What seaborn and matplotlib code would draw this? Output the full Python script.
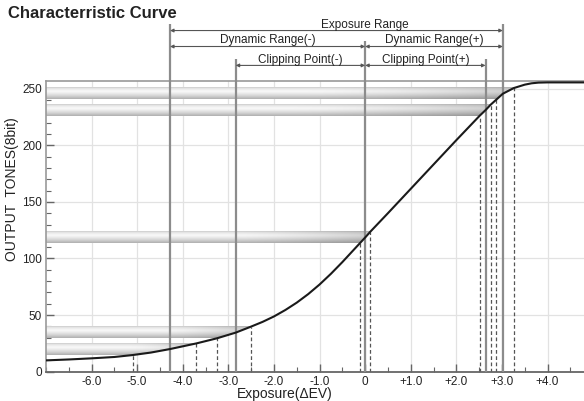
import matplotlib
matplotlib.use('AGG')
import matplotlib.pyplot as plt
from matplotlib.patches import Polygon
from matplotlib.ticker import MultipleLocator, FixedLocator
import seaborn as sns
import pandas as pd
import numpy as np

# characteristic curve (exposure in EV, output tone 0-255)
ev = [-7.0, -6.5, -6.0, -5.5, -5.1, -4.7, -4.28, -3.7, -3.25, -2.84, -2.51, -2.25,
      -2.0, -1.75, -1.5, -1.25, -1.0, -0.75, -0.5, -0.3, -0.12, 0.0, 0.11, 0.5,
      1.0, 1.5, 2.0, 2.51, 2.64, 2.75, 2.88, 3.02, 3.26, 3.5, 3.65, 3.8, 4.0, 4.8]
tones = [10.0, 10.8, 11.8, 13.0, 14.7, 16.9, 20.0, 25.0, 29.5, 34.5, 39.7, 44.0,
         48.8, 54.5, 61.0, 68.5, 77.0, 86.5, 96.8, 105.5, 113.3, 118.5, 123.5, 140.0,
         161.5, 183.0, 204.5, 226.0, 231.0, 235.7, 240.4, 245.5, 250.5, 253.5, 254.7,
         255.3, 255.5, 255.5]

# grey reference bands (tone range) and where the curve meets them
band_lo = [240.5, 226.0, 113.5, 29.5, 14.7]
band_hi = [250.5, 236.0, 123.5, 39.7, 25.0]
cross_lo = [2.88, 2.51, -0.12, -3.25, -5.1]
cross_mid = [3.02, 2.64, 0.0, -2.84, -4.28]
cross_hi = [3.26, 2.75, 0.11, -2.51, -3.7]
mid_top = [306.8, 276.4, 292.5, 276.4, 306.8]

# range annotations above the plot
range_labels = ["Exposure Range", "Dynamic Range(-)", "Dynamic Range(+)",
                "Clipping Point(-)", "Clipping Point(+)"]
range_start = [-4.28, -4.28, 0.0, -2.84, 0.0]
range_end = [3.02, 0.0, 3.02, 0.0, 2.64]
range_level = [301.3, 287.2, 287.2, 270.5, 270.5]
range_text_x = [0.0, -2.14, 1.51, -1.42, 1.32]
range_text_y = [306.5, 292.6, 292.6, 275.5, 275.5]

xticks = [-6, -5, -4, -3, -2, -1, 0, 1, 2, 3, 4]
xticklabels = ["-6.0", "-5.0", "-4.0", "-3.0", "-2.0", "-1.0", "0",
               "+1.0", "+2.0", "+3.0", "+4.0"]
yticks = [0, 50, 100, 150, 200, 250]


def band_image(n_rows=40, n_cols=200):
    # cylinder-like shading: grey edges, bright middle, slight darkening to the right
    t = np.linspace(0, 1, n_rows)
    v = 0.97 - 0.28 * np.abs(t - 0.35) ** 1.3 / 0.65 ** 1.3
    v[0] = 0.74
    s = np.linspace(0, 1, n_cols)
    h = 1.0 - 0.16 * np.clip((s - 0.55) / 0.45, 0, 1) ** 1.5
    return np.outer(v, h)


def main():
    sns.set_style("white")
    plt.rcParams['font.family'] = ['Liberation Sans', 'DejaVu Sans']

    fig = plt.figure(figsize=(5.84, 4.01), dpi=100)
    ax = fig.add_axes([46 / 584, 1 - 371.7 / 401, 538 / 584, 291 / 401])

    xmin, xmax, ymin, ymax = -7.0, 4.8, 0, 257

    # grid
    for x in xticks:
        ax.axvline(x, color='#e2e2e2', lw=0.9, zorder=0)
    for y in yticks[1:]:
        ax.axhline(y, color='#e2e2e2', lw=0.9, zorder=0)

    # bands clipped by the curve
    clip = Polygon(list(zip(ev, tones)) + [(xmax, 300), (xmin, 300)],
                   closed=True, transform=ax.transData, facecolor='none', edgecolor='none')
    ax.add_patch(clip)
    img = band_image()
    for lo, hi, xr in zip(band_lo, band_hi, cross_hi):
        im = ax.imshow(img, cmap='gray', vmin=0, vmax=1, aspect='auto',
                       extent=(xmin, xr + 0.05, lo, hi), zorder=1, interpolation='bilinear')
        im.set_clip_path(clip)

    # dashed lines where the curve meets band edges
    ax.vlines(cross_lo, 0, band_lo, colors='#555555', lw=0.9, linestyles=(0, (3, 2)), zorder=2)
    ax.vlines(cross_hi, 0, band_hi, colors='#555555', lw=0.9, linestyles=(0, (3, 2)), zorder=2)

    # solid lines at band centres, running up to the annotations
    ax.vlines(cross_mid, 0, mid_top, colors='#8c8c8c', lw=1.6, zorder=3, clip_on=False)

    sns.lineplot(x=ev, y=tones, color='#1a1a1a', lw=1.5, ax=ax, zorder=4)

    for lab, x0, x1, yl, tx, ty in zip(range_labels, range_start, range_end,
                                      range_level, range_text_x, range_text_y):
        ax.annotate("", xy=(x0, yl), xytext=(x1, yl), annotation_clip=False,
                    arrowprops=dict(arrowstyle='<|-|>', color='#555555', lw=0.8,
                                    mutation_scale=5, shrinkA=0, shrinkB=0))
        ax.text(tx, ty, lab, ha='center', va='center', fontsize=8.5,
                color='#222222', clip_on=False)

    ax.set_xlim(xmin, xmax)
    ax.set_ylim(ymin, ymax)

    ax.xaxis.set_major_locator(FixedLocator(xticks))
    ax.set_xticklabels(xticklabels)
    ax.xaxis.set_minor_locator(MultipleLocator(0.5))
    ax.yaxis.set_major_locator(FixedLocator(yticks))
    ax.yaxis.set_minor_locator(MultipleLocator(10))
    ax.tick_params(which='both', direction='in', colors='#666666', labelcolor='#222222',
                   labelsize=8.5, left=True, bottom=True)
    ax.tick_params(which='major', length=6, width=1)
    ax.tick_params(which='minor', length=3.5, width=0.8)
    ax.tick_params(axis='x', pad=3)
    ax.tick_params(axis='y', pad=3)

    for side in ['top', 'left']:
        ax.spines[side].set_color('#999999')
        ax.spines[side].set_linewidth(1.2)
    ax.spines['bottom'].set_color('#666666')
    ax.spines['bottom'].set_linewidth(1.3)
    ax.spines['right'].set_visible(False)

    fig.text(8 / 584, 1 - 14 / 401, "Characterristic Curve", fontsize=12,
             fontweight='bold', va='center', ha='left', color='#222222')
    fig.text(12 / 584, 1 - 189 / 401, "OUTPUT  TONES(8bit)", rotation=90,
             fontsize=10, va='center', ha='center', color='#222222')
    fig.text(285 / 584, 1 - 394 / 401, "Exposure(\u0394EV)", fontsize=10,
             va='center', ha='center', color='#222222')

    fig.savefig("out.png", dpi=100)


if __name__ == "__main__":
    main()
